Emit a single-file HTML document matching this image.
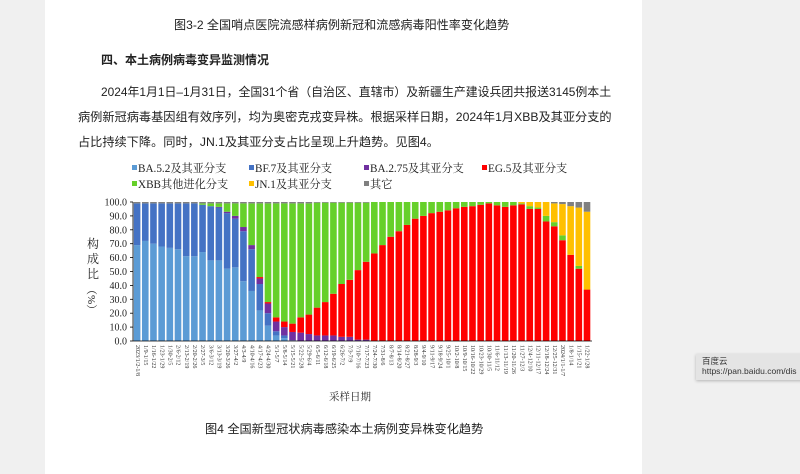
<!DOCTYPE html>
<html><head><meta charset="utf-8"><style>
body{margin:0;width:800px;height:474px;background:#f0f0f0;position:relative;overflow:hidden;font-family:"Liberation Sans","Noto Sans CJK SC",sans-serif;color:#222}
#page{position:absolute;left:45px;top:0;width:597px;height:474px;background:#fff}
.t{position:absolute;white-space:nowrap}
</style></head><body>
<div id="page"></div>
<div class="t" style="left:174px;top:16px;font-size:12.1px;">图3-2 全国哨点医院流感样病例新冠和流感病毒阳性率变化趋势</div>
<div class="t" style="left:101px;top:51px;font-size:12px;font-weight:bold;">四、本土病例病毒变异监测情况</div>
<div class="t" style="left:101px;top:83px;font-size:11.9px;">2024年1月1日–1月31日，全国31个省（自治区、直辖市）及新疆生产建设兵团共报送3145例本土</div>
<div class="t" style="left:78px;top:107px;font-size:12.2px;">病例新冠病毒基因组有效序列，均为奥密克戎变异株。根据采样日期，2024年1月XBB及其亚分支的</div>
<div class="t" style="left:78px;top:132px;font-size:12.2px;">占比持续下降。同时，JN.1及其亚分支占比呈现上升趋势。见图4。</div>
<div class="t" style="left:205px;top:419px;font-size:12.2px;">图4 全国新型冠状病毒感染本土病例变异株变化趋势</div>
<div style="position:absolute;left:696px;top:354px;width:110px;height:26px;background:#e4e4e4;box-shadow:0 1px 3px rgba(0,0,0,.25);font-size:8.5px;color:#333;line-height:10px;padding:2px 0 0 6px;box-sizing:border-box">百度云<br>https://pan.baidu.com/dis</div>
<svg id="c" width="800" height="474" style="position:absolute;left:0;top:0" xmlns="http://www.w3.org/2000/svg"></svg>
<script>
const C=['#5b9bd5','#4472c4','#7030a0','#ff0000','#66d02a','#ffc000','#808080'];
const D=[[69,30,0,0,0,1],[72,27,0,0,0,1],[70,29,0,0,0,1],[68,31,0,0,0,1],[67,32,0,0,0,1],[66,33,0,0,0,1],[61,38,0,0,0,1],[61,38,0,0,0,1],[64,34,0,0,0,1],[58,39,0,0,0,1],[58,38,0.5,0,0,1],[52,40,1,0,0,1],[53,35,2,0,0,1],[43,36,3,0,0,1],[36,30,3,0,0,1],[22,19,4,1,0,1],[11,9,7,1,0,1],[4,3,7,3,0,1],[2,2,6,4,0,1],[0.5,0,6,6,0,1],[0,0,6,11,0,1],[0,0,5,14,0,1],[0,0,4,20,0,0.5],[0,0,4,24,0,0.5],[0,0,4,30,0,0.5],[0,0,3,38,0,0.5],[0,0,3,41,0,0.5],[0,0,1,50,0,0.5],[0,0,1,56,0,0.5]];
const E=[63,69,75,79,83.5,88,90,92,93,94,95.5,96.5,97,98,99,97.6,96.5,97.6,98.3,95,95,86,82.5,72.5,62,52,37];
const JO={47:[1,0],48:[3,0],49:[4,0],50:[10,0],51:[13.5,1],52:[22.5,1.5],53:[35,3],54:[42,4],55:[56,7]};
E.forEach((e,i)=>{const k=29+i;const j=JO[k]||[0,0];D.push([0,0,0,e,j[0],j[1]]);});
const L=["2023/1/2-1/8","1/9-1/15","1/16-1/22","1/23-1/29","1/30-2/5","2/6-2/12","2/13-2/19","2/20-2/26","2/27-3/5","3/6-3/12","3/13-3/19","3/20-3/26","3/27-4/2","4/3-4/9","4/10-4/16","4/17-4/23","4/24-4/30","5/1-5/7","5/8-5/14","5/15-5/21","5/22-5/28","5/29-6/4","6/5-6/11","6/12-6/18","6/19-6/25","6/26-7/2","7/3-7/9","7/10-7/16","7/17-7/23","7/24-7/30","7/31-8/6","8/7-8/13","8/14-8/20","8/21-8/27","8/28-9/3","9/4-9/10","9/11-9/17","9/18-9/24","9/25-10/1","10/2-10/8","10/9-10/15","10/16-10/22","10/23-10/29","10/30-11/5","11/6-11/12","11/13-11/19","11/20-11/26","11/27-12/3","12/4-12/10","12/11-12/17","12/18-12/24","12/25-12/31","2024/1/1-1/7","1/8-1/14","1/15-1/21","1/22-1/28"];
const x0=133,p=8.18,bw=6.6,y0=341,H=139;
let s='';
D.forEach((d,i)=>{const v=[d[0],d[1],d[2],d[3],0,d[4],d[5]];v[4]=Math.max(0,100-d.reduce((a,b)=>a+b,0));
 let acc=0;const x=x0+i*p+0.8;
 v.forEach((val,c)=>{if(val<=0)return;const y=y0-(acc+val)*H/100;s+=`<rect x="${x.toFixed(2)}" y="${y.toFixed(2)}" width="${bw}" height="${(val*H/100).toFixed(2)}" fill="${C[c]}"/>`;acc+=val;});
 s+=`<text transform="translate(${(x+2).toFixed(1)},345) rotate(90)" font-size="6" font-family="Liberation Serif" fill="#333">${L[i]}</text>`;
});
for(let k=0;k<=10;k++){const y=y0-k*H/10;s+=`<text x="127" y="${y+3.5}" text-anchor="end" font-size="10" font-family="Liberation Serif" fill="#222">${(k*10).toFixed(1)}</text><line x1="130" x2="133" y1="${y}" y2="${y}" stroke="#000" stroke-width="0.8"/>`;}
s+=`<line x1="133" x2="133" y1="202" y2="341" stroke="#000" stroke-width="0.8"/><line x1="133" x2="592" y1="341" y2="341" stroke="#000" stroke-width="0.8"/>`;
s+=`<text x="93" y="248" text-anchor="middle" font-size="12" font-family="Liberation Serif,Noto Serif CJK SC,serif" fill="#222"><tspan x="93">构</tspan><tspan x="93" dy="15">成</tspan><tspan x="93" dy="15">比</tspan></text><text transform="translate(88,284) rotate(90)" font-size="11" font-family="Liberation Serif,Noto Serif CJK SC,serif" fill="#222">（%）</text>`;
s+=`<text x="350" y="400" text-anchor="middle" font-size="10.5" font-family="Liberation Serif,Noto Serif CJK SC,serif" fill="#222">采样日期</text>`;
const LG=[[138,172,0,'BA.5.2及其亚分支'],[255,172,1,'BF.7及其亚分支'],[370,172,2,'BA.2.75及其亚分支'],[488,172,3,'EG.5及其亚分支'],[138,188,4,'XBB其他进化分支'],[255,188,5,'JN.1及其亚分支'],[370,188,6,'其它']];
LG.forEach(g=>{s+=`<rect x="${g[0]-6}" y="${g[1]-7}" width="5" height="5" fill="${C[g[2]]}"/><text x="${g[0]}" y="${g[1]}" font-size="11.2" font-family="Liberation Serif,Noto Serif CJK SC,serif" fill="#222">${g[3]}</text>`;});
document.getElementById('c').innerHTML=s;
</script>
</body></html>
